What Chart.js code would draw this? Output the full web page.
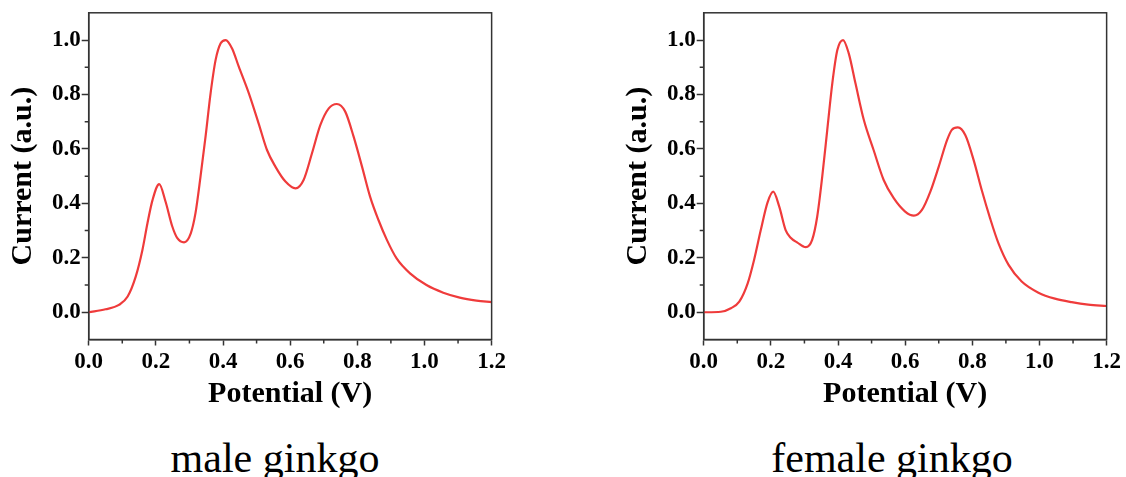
<!DOCTYPE html>
<html>
<head>
<meta charset="utf-8">
<script src="https://cdn.jsdelivr.net/npm/chart.js@4.4.1/dist/chart.umd.min.js"></script>
<style>
  body { margin: 0; background: #fff; width: 1126px; height: 477px; position: relative; overflow: hidden; }
  canvas { position: absolute; top: 0; }
  .caption { position: absolute; top: 437px; width: 400px; height: 42px; line-height: 42px; text-align: center;
             font-family: 'Liberation Serif', 'Times New Roman', serif; font-size: 42px; color: #000; }
</style>
</head>
<body>
<canvas id="chartMale" width="511" height="420" style="left:0px"></canvas>
<canvas id="chartFemale" width="511" height="420" style="left:615px"></canvas>
<div class="caption" id="capMale" style="left:75px"></div>
<div class="caption" id="capFemale" style="left:692px"></div>
<script>
// ---------- Datos ----------
const captions = ['male ginkgo', 'female ginkgo'];

const maleX = [0, 0.05, 0.09, 0.116, 0.14, 0.16, 0.175, 0.19, 0.21, 0.229, 0.249, 0.264, 0.284, 0.304, 0.318,
  0.333, 0.348, 0.363, 0.378, 0.393, 0.408, 0.427, 0.447, 0.477, 0.506, 0.531, 0.556, 0.586, 0.616, 0.64,
  0.665, 0.69, 0.715, 0.739, 0.764, 0.789, 0.814, 0.838, 0.863, 0.888, 0.917, 0.957, 1.006, 1.056, 1.105, 1.155, 1.2];
const maleY = [0, 0.011, 0.027, 0.058, 0.131, 0.229, 0.327, 0.412, 0.471, 0.406, 0.315, 0.272, 0.257, 0.29, 0.364,
  0.498, 0.645, 0.804, 0.927, 0.988, 1.0, 0.969, 0.902, 0.804, 0.694, 0.596, 0.535, 0.48, 0.455, 0.486,
  0.584, 0.688, 0.749, 0.765, 0.737, 0.645, 0.535, 0.425, 0.339, 0.266, 0.198, 0.143, 0.1, 0.072, 0.054, 0.043, 0.037];

const femaleX = [0, 0.051, 0.081, 0.106, 0.131, 0.15, 0.17, 0.19, 0.207, 0.225, 0.244, 0.259, 0.279, 0.304, 0.323,
  0.338, 0.353, 0.368, 0.383, 0.398, 0.415, 0.432, 0.452, 0.477, 0.506, 0.536, 0.566, 0.6, 0.626, 0.65,
  0.675, 0.7, 0.725, 0.739, 0.757, 0.779, 0.804, 0.828, 0.853, 0.878, 0.908, 0.947, 0.997, 1.046, 1.096, 1.145, 1.2];
const femaleY = [0, 0.002, 0.015, 0.039, 0.106, 0.192, 0.302, 0.403, 0.443, 0.388, 0.302, 0.274, 0.256, 0.239, 0.266,
  0.351, 0.498, 0.67, 0.841, 0.963, 1.0, 0.951, 0.841, 0.706, 0.596, 0.486, 0.419, 0.37, 0.355, 0.376,
  0.443, 0.535, 0.633, 0.67, 0.679, 0.651, 0.559, 0.449, 0.345, 0.253, 0.174, 0.113, 0.072, 0.05, 0.037, 0.028, 0.023];

const xTicks = [0, 0.2, 0.4, 0.6, 0.8, 1.0, 1.2];
const yTicks = [0, 0.2, 0.4, 0.6, 0.8, 1.0];
const xMinor = [0.1, 0.3, 0.5, 0.7, 0.9, 1.1];
const yMinor = [0.1, 0.3, 0.5, 0.7, 0.9];

const axisColor = '#333';
const lineColor = '#ef3b3b';
const serif = "'Liberation Serif', 'Times New Roman', serif";

// ---------- Marco y ticks menores ----------
const marco = {
  id: 'marco',
  afterDraw(chart) {
    const { ctx, chartArea: a, scales: { x, y } } = chart;
    ctx.save();
    ctx.strokeStyle = axisColor;
    ctx.lineWidth = 1.5;
    ctx.beginPath();
    xMinor.forEach(v => {
      const px = x.getPixelForValue(v);
      ctx.moveTo(px, a.bottom);
      ctx.lineTo(px, a.bottom + 4);
    });
    yMinor.forEach(v => {
      const py = y.getPixelForValue(v);
      ctx.moveTo(a.left, py);
      ctx.lineTo(a.left - 4, py);
    });
    ctx.stroke();
    ctx.strokeRect(a.left, a.top, a.right - a.left, a.bottom - a.top);
    ctx.restore();
  }
};

function crearGrafica(id, xs, ys) {
  const ctx = document.getElementById(id).getContext('2d');
  return new Chart(ctx, {
    type: 'line',
    data: {
      datasets: [{
        data: xs.map((v, i) => ({ x: v, y: ys[i] })),
        borderColor: lineColor,
        borderWidth: 2.2,
        pointRadius: 0,
        cubicInterpolationMode: 'monotone',
        fill: false
      }]
    },
    options: {
      responsive: false,
      animation: false,
      layout: { padding: { left: 0, right: 18, top: 12.8, bottom: 0 } },
      scales: {
        x: {
          type: 'linear',
          min: 0,
          max: 1.2,
          afterBuildTicks: s => { s.ticks = xTicks.map(v => ({ value: v })); },
          afterFit: s => { s.height = 80.5; },
          ticks: {
            color: '#000',
            padding: 5,
            maxRotation: 0,
            font: { family: serif, size: 23, weight: 'bold', lineHeight: 1 },
            callback: v => Number(v).toFixed(1)
          },
          grid: { drawOnChartArea: false, tickLength: 6, tickColor: axisColor, tickWidth: 1.5 },
          border: { color: axisColor, width: 1.5 },
          title: {
            display: true,
            text: 'Potential (V)',
            color: '#000',
            font: { family: serif, size: 30, weight: 'bold' },
            padding: { top: 0, bottom: 8 }
          }
        },
        y: {
          type: 'linear',
          min: -0.1,
          max: 1.1,
          afterBuildTicks: s => { s.ticks = yTicks.map(v => ({ value: v })); },
          afterFit: s => { s.width = 88.7; },
          ticks: {
            color: '#000',
            padding: 1,
            font: { family: serif, size: 23, weight: 'bold', lineHeight: 1 },
            callback: v => Number(v).toFixed(1)
          },
          grid: { drawOnChartArea: false, tickLength: 7, tickColor: axisColor, tickWidth: 1.5 },
          border: { color: axisColor, width: 1.5 },
          title: {
            display: true,
            text: 'Current (a.u.)',
            color: '#000',
            font: { family: serif, size: 30, weight: 'bold' },
            padding: { top: 5, bottom: 0 }
          }
        }
      },
      plugins: {
        legend: { display: false },
        tooltip: { enabled: false }
      }
    },
    plugins: [marco]
  });
}

crearGrafica('chartMale', maleX, maleY);
crearGrafica('chartFemale', femaleX, femaleY);
document.getElementById('capMale').textContent = captions[0];
document.getElementById('capFemale').textContent = captions[1];
</script>
</body>
</html>
